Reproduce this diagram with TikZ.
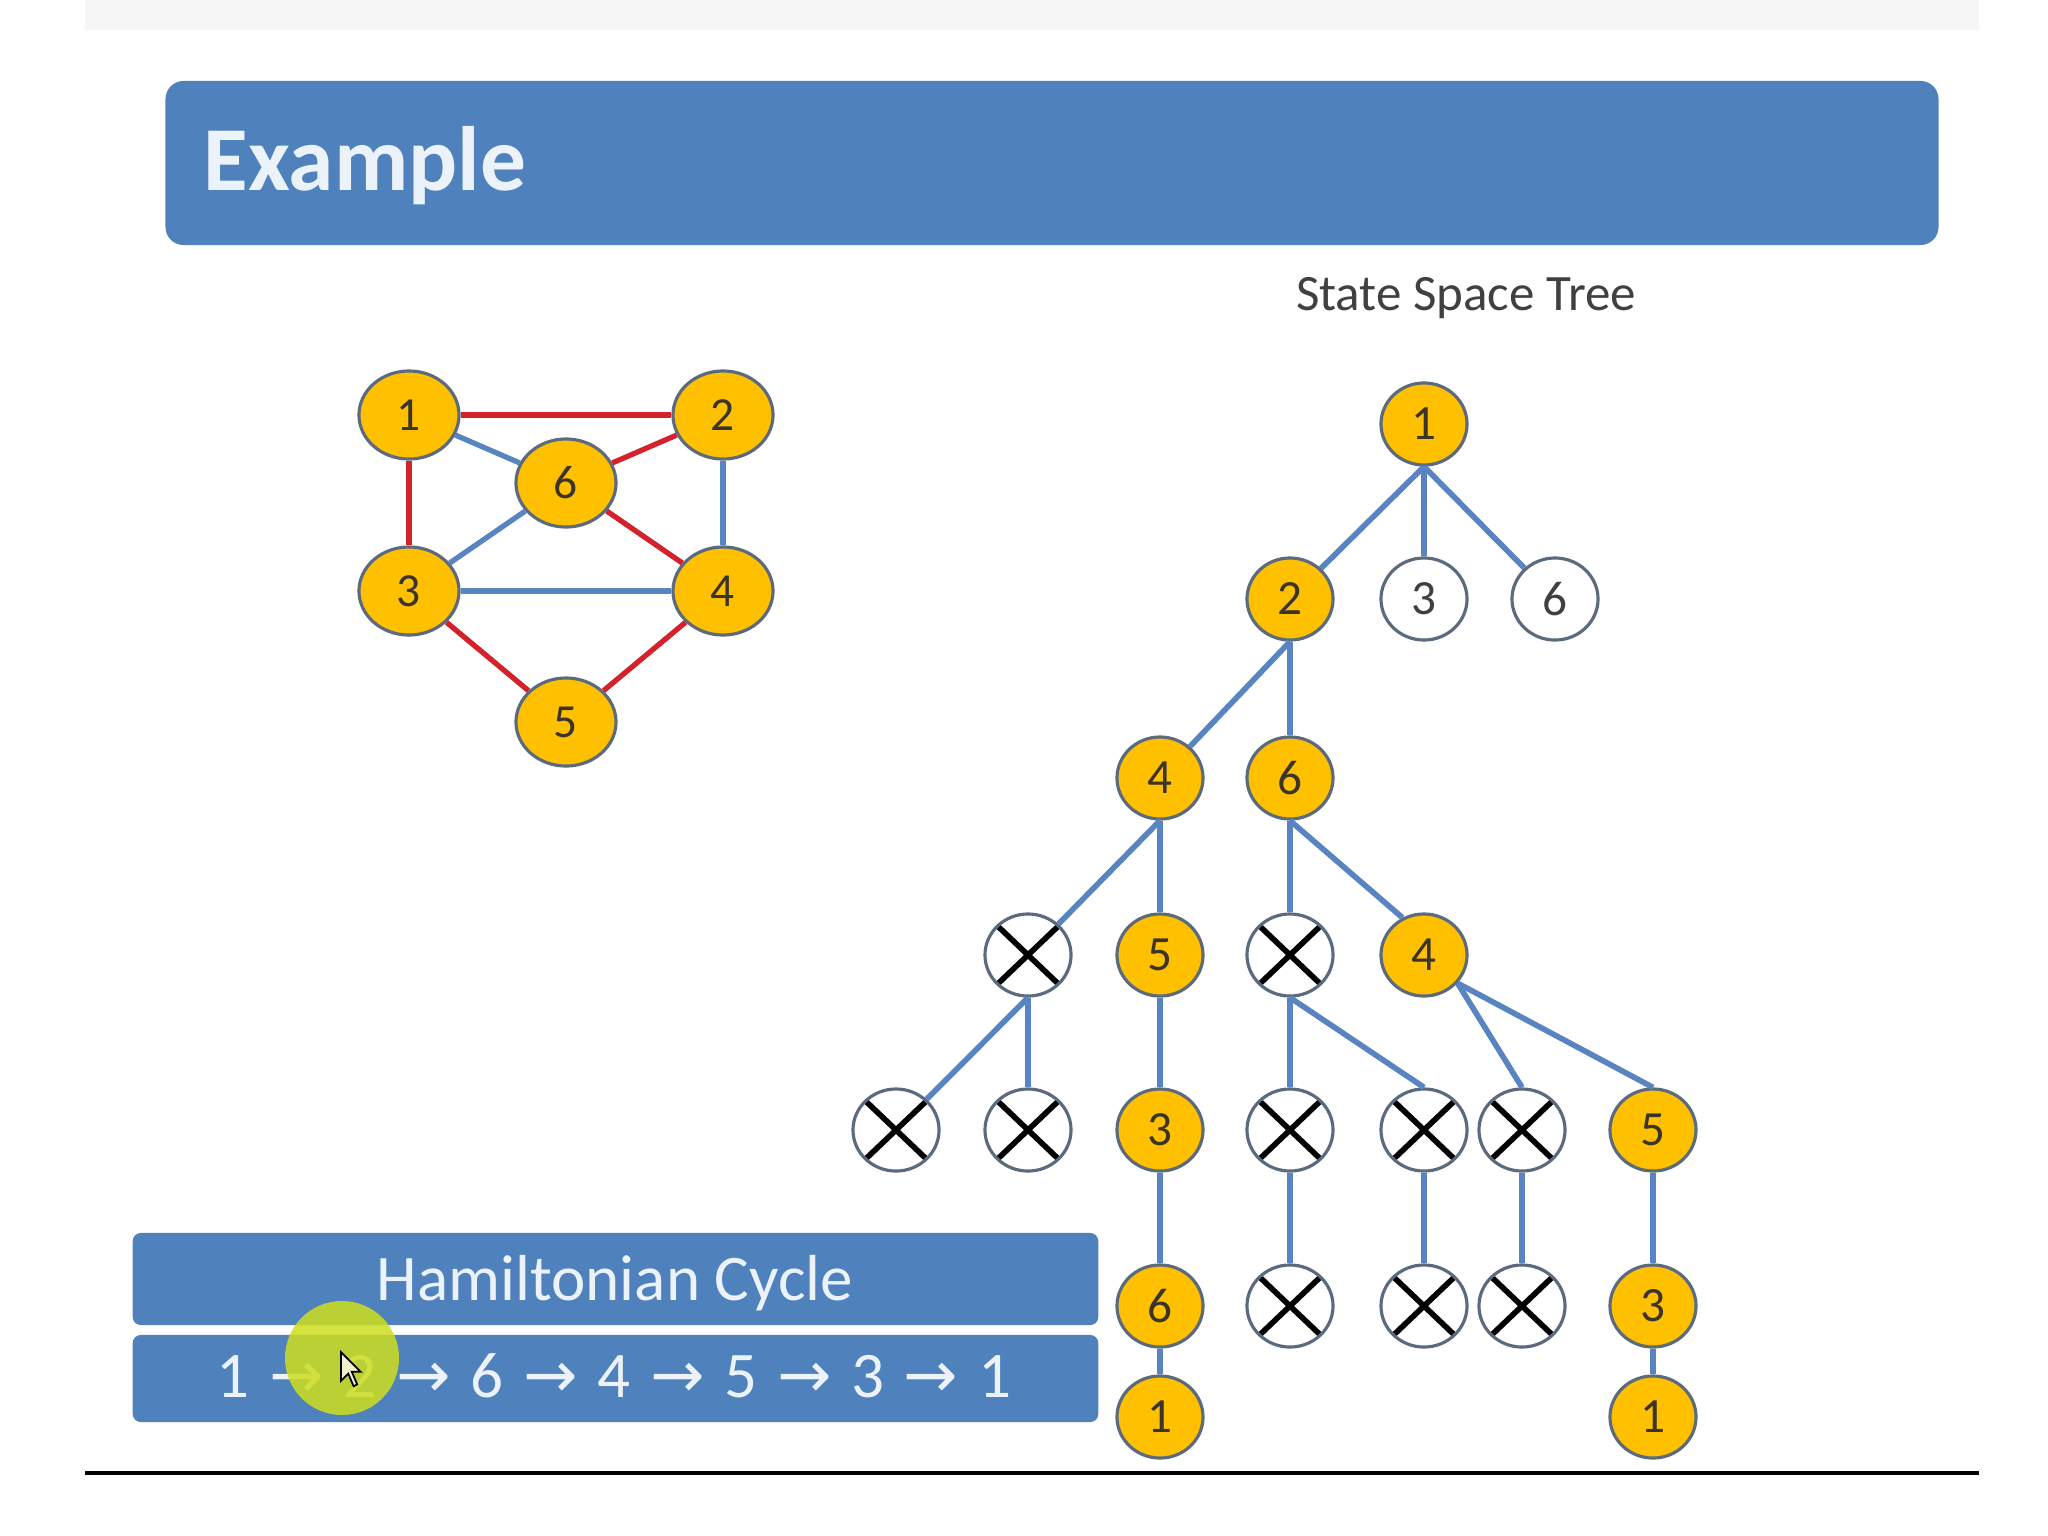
\documentclass[tikz,border=0pt]{standalone}
\usepackage{fontspec}
\setmainfont{Carlito}
\newfontfamily\djv{DejaVu Sans}
\usetikzlibrary{shapes.geometric}
\definecolor{gold}{RGB}{255,192,0}
\definecolor{nborder}{RGB}{92,106,126}
\definecolor{boxblue}{RGB}{79,129,189}
\definecolor{lineblue}{RGB}{88,132,194}
\definecolor{edgered}{RGB}{212,34,44}
\definecolor{digit}{RGB}{60,52,40}
\definecolor{lighttext}{RGB}{236,242,250}
\definecolor{topgray}{RGB}{246,246,246}
\definecolor{hlyellow}{RGB}{205,222,30}
\newcommand\hcarr{\hspace{5.6pt}{\djv →}\hspace{5.6pt}}
\begin{document}
\begin{tikzpicture}[x=0.01cm,y=-0.01cm,
  gnode/.style={ellipse, draw=nborder, line width=0.9pt, fill=gold, minimum width=1cm, minimum height=0.88cm, inner sep=0pt, text=digit, font=\fontsize{13.5}{15}\selectfont},
  tnode/.style={ellipse, draw=nborder, line width=0.9pt, fill=gold, minimum width=0.86cm, minimum height=0.82cm, inner sep=0pt, text=digit, font=\fontsize{14}{16}\selectfont},
  wnode/.style={tnode, fill=white, text=black!75},
  xnode/.style={tnode, fill=white, path picture={
      \draw[black, line width=1.6pt] (path picture bounding box.south west) -- (path picture bounding box.north east)
        (path picture bounding box.north west) -- (path picture bounding box.south east);}},
  redge/.style={edgered, line width=1.5pt},
  bedge/.style={lineblue, line width=1.5pt},
  tedge/.style={lineblue, line width=1.6pt},
  bluebox/.style={fill=boxblue, rounded corners=0.08cm, inner sep=0pt},
]
\useasboundingbox (0,0) rectangle (2048,1536);
\fill[white] (0,0) rectangle (2048,1536);
\fill[topgray] (85,0) rectangle (1979,30);
\coordinate (hl1) at (85,1473);
\coordinate (hl2) at (1979,1473);
\draw[black, line width=0.9pt] (hl1) -- (hl2);

% title
\node[bluebox, rounded corners=0.18cm, minimum width=17.72cm, minimum height=1.64cm] (title) at (1052,163) {};
\node[anchor=base west, text=lighttext, font=\fontsize{26}{30}\selectfont\bfseries, inner sep=0pt] (titletext) at (203,190) {Example};
\node[anchor=base, text=black!75, font=\fontsize{14.5}{17}\selectfont, inner sep=0pt] (sst) at (1466,310) {State Space Tree};

% graph
\node[gnode] (g1) at (409,415) {1};
\node[gnode] (g2) at (723,415) {2};
\node[gnode] (g6) at (566,483) {6};
\node[gnode] (g3) at (409,591) {3};
\node[gnode] (g4) at (723,591) {4};
\node[gnode] (g5) at (566,722) {5};
\draw[redge] (g1) -- (g2);
\draw[redge] (g1) -- (g3);
\draw[redge] (g2) -- (g6);
\draw[redge] (g6) -- (g4);
\draw[redge] (g3) -- (g5);
\draw[redge] (g5) -- (g4);
\draw[bedge] (g1) -- (g6);
\draw[bedge] (g6) -- (g3);
\draw[bedge] (g2) -- (g4);
\draw[bedge] (g3) -- (g4);

% tree
\node[tnode] (t1) at (1424,424) {1};
\node[tnode] (t2) at (1290,599) {2};
\node[wnode] (t3w) at (1424,599) {3};
\node[wnode] (t6w) at (1555,599) {6};
\node[tnode] (t4) at (1160,778) {4};
\node[tnode] (t6) at (1290,778) {6};
\node[xnode] (x41) at (1028,955) {};
\node[tnode] (t5) at (1160,955) {5};
\node[xnode] (x42) at (1290,955) {};
\node[tnode] (t4b) at (1424,955) {4};
\node[xnode] (x51) at (896,1130) {};
\node[xnode] (x52) at (1028,1130) {};
\node[tnode] (t3) at (1160,1130) {3};
\node[xnode] (x53) at (1290,1130) {};
\node[xnode] (x54) at (1424,1130) {};
\node[xnode] (x55) at (1522,1130) {};
\node[tnode] (t5b) at (1653,1130) {5};
\node[tnode] (t6c) at (1160,1306) {6};
\node[xnode] (x61) at (1290,1306) {};
\node[xnode] (x62) at (1424,1306) {};
\node[xnode] (x63) at (1522,1306) {};
\node[tnode] (t3b) at (1653,1306) {3};
\node[tnode] (t1a) at (1160,1417) {1};
\node[tnode] (t1b) at (1653,1417) {1};

\draw[tedge] (t1.south) -- (t2);
\draw[tedge] (t1.south) -- (t3w);
\draw[tedge] (t1.south) -- (t6w);
\draw[tedge] (t2.south) -- (t4);
\draw[tedge] (t2.south) -- (t6);
\draw[tedge] (t4.south) -- (x41);
\draw[tedge] (t4.south) -- (t5);
\draw[tedge] (t6.south) -- (x42);
\draw[tedge] (t6.south) -- (t4b.120);
\draw[tedge] (x41.south) -- (x51);
\draw[tedge] (x41.south) -- (x52);
\draw[tedge] (t5.south) -- (t3);
\draw[tedge] (x42.south) -- (x53);
\draw[tedge] (x42.south) -- (x54.north);
\draw[tedge] (t4b.-40) -- (x55.north);
\draw[tedge] (t4b.-40) -- (t5b.north);
\draw[tedge] (t3.south) -- (t6c);
\draw[tedge] (x53.south) -- (x61);
\draw[tedge] (x54.south) -- (x62);
\draw[tedge] (x55.south) -- (x63);
\draw[tedge] (t5b.south) -- (t3b);
\draw[tedge] (t6c.south) -- (t1a);
\draw[tedge] (t3b.south) -- (t1b);

% bottom boxes
\node[bluebox, minimum width=9.65cm, minimum height=0.92cm] (hbox) at (615.5,1279) {};
\node[anchor=base, text=lighttext, font=\fontsize{18.5}{22}\selectfont, inner sep=0pt] (htext) at (615,1300) {Hamiltonian Cycle};
\node[bluebox, minimum width=9.65cm, minimum height=0.87cm] (pbox) at (615.5,1378.5) {};
\node[anchor=base, text=lighttext, font=\fontsize{18.5}{22}\selectfont, inner sep=0pt] (ptext) at (614,1397) {1\hcarr 2\hcarr 6\hcarr 4\hcarr 5\hcarr 3\hcarr 1};

% cursor highlight and pointer
\fill[hlyellow, opacity=0.85] (342,1358) circle (0.57cm);
\draw[black, fill={rgb,255:red,240;green,240;blue,205}, line width=0.5pt, shift={(341,1352)}, x=0.018cm, y=-0.018cm]
  (0,0) -- (0,16) -- (4,12) -- (7,19) -- (9,18) -- (6,11) -- (11,11) -- cycle;
\end{tikzpicture}
\end{document}
